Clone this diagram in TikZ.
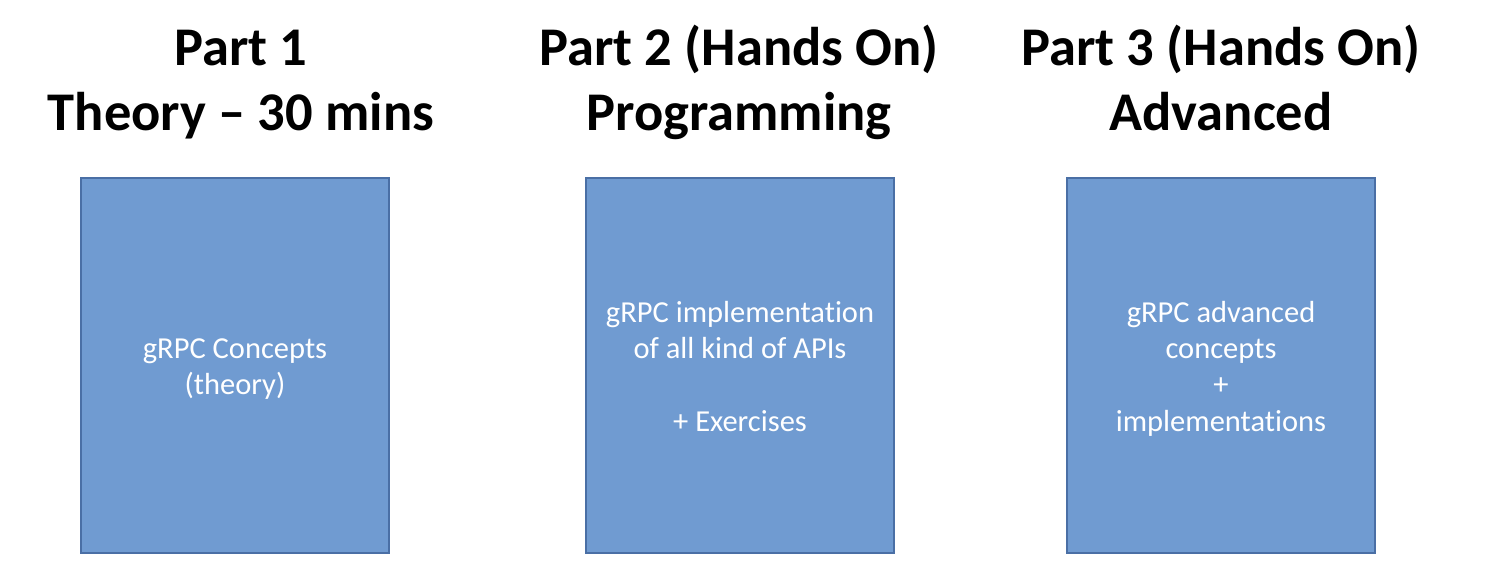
\documentclass[tikz,border=0pt]{standalone}
\usepackage{fontspec}
\setmainfont{Carlito}[Ligatures=NoCommon]
\definecolor{boxfill}{RGB}{112,155,209}
\definecolor{boxline}{RGB}{74,111,165}
\begin{document}
\begin{tikzpicture}[x=1pt,y=-1pt,
  title/.style={font=\fontsize{54.5}{65}\selectfont\bfseries, text=black, inner sep=0pt, anchor=base},
  partbox/.style={draw=boxline, line width=1.6pt, fill=boxfill, minimum width=308pt, minimum height=375pt, inner sep=0pt},
  boxtext/.style={font=\fontsize{30.5}{36.3}\selectfont, text=white, inner sep=0pt, anchor=base}]
  \useasboundingbox (0,0) rectangle (1490,584);
  % three session blocks
  \node[partbox] (b1) at (235,365.5) {};
  \node[partbox] (b2) at (740,365.5) {};
  \node[partbox] (b3) at (1221,365.5) {};
  % headings, one node per line, placed on their baselines
  \node[title] (t1a) at (241,65.5) {Part 1};
  \node[title] (t1b) at (241,130.5) {Theory -- 30 mins};
  \node[title] (t2a) at (739,65.5) {Part 2 (Hands On)};
  \node[title] (t2b) at (739,130.5) {Programming};
  \node[title] (t3a) at (1221,65.5) {Part 3 (Hands On)};
  \node[title] (t3b) at (1221,130.5) {Advanced};
  % block contents
  \node[boxtext] (c1a) at (235,358.3) {gRPC Concepts};
  \node[boxtext] (c1b) at (235,394.6) {(theory)};
  \node[boxtext] (c2a) at (740,322) {gRPC implementation};
  \node[boxtext] (c2b) at (740,358.3) {of all kind of APIs};
  \node[boxtext] (c2c) at (740,431) {+ Exercises};
  \node[boxtext] (c3a) at (1221,322) {gRPC advanced};
  \node[boxtext] (c3b) at (1221,358.3) {concepts};
  \node[boxtext] (c3c) at (1221,394.6) {+};
  \node[boxtext] (c3d) at (1221,431) {implementations};
\end{tikzpicture}
\end{document}
